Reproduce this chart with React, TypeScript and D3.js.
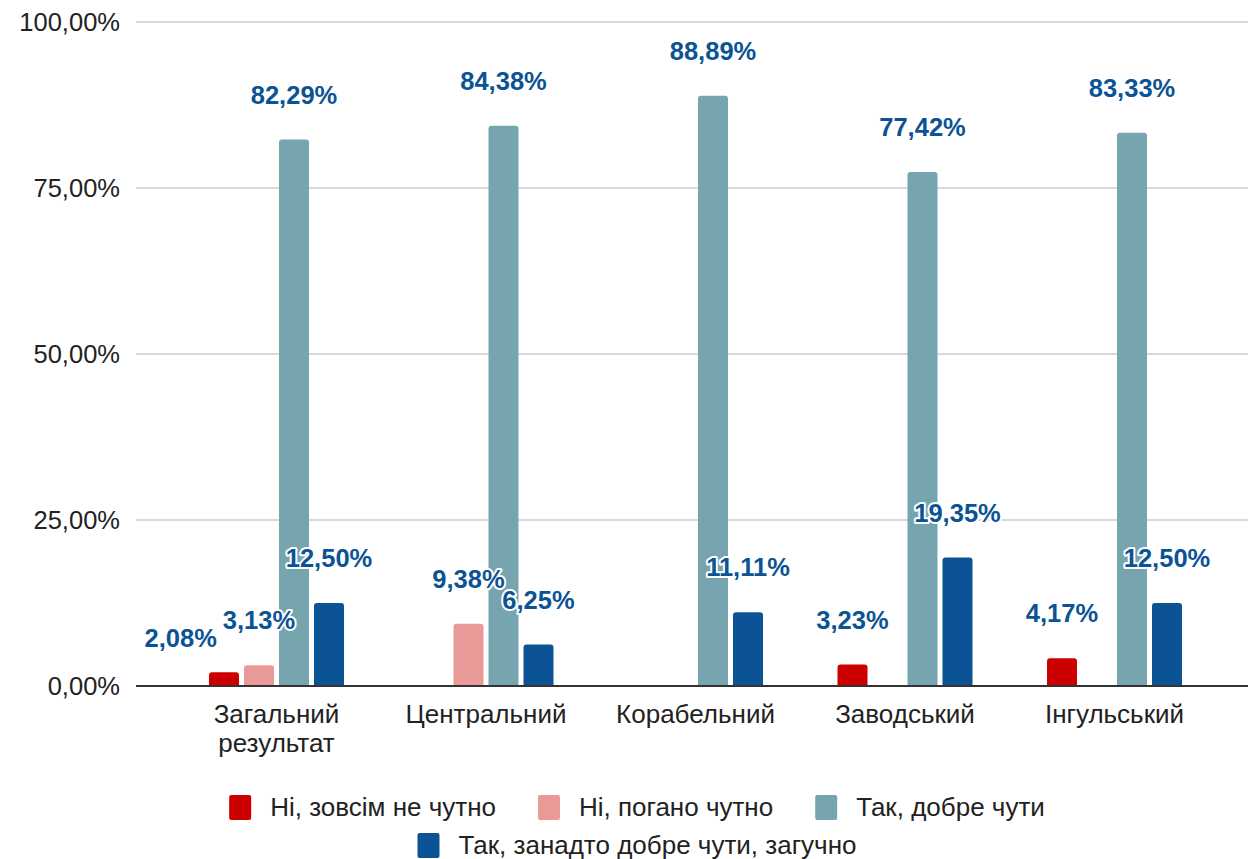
import React from "react";
import * as d3 from "d3";

const categories = [["Загальний", "результат"], ["Центральний"], ["Корабельний"], ["Заводський"], ["Інгульський"]];
const seriesNames = ["Ні, зовсім не чутно", "Ні, погано чутно", "Так, добре чути", "Так, занадто добре чути, загучно"];
const seriesColors = ["#cc0000", "#ea9999", "#76a5af", "#0b5394"];
const notAudible = [2.08, 0, 0, 3.23, 4.17];
const poorlyAudible = [3.13, 9.38, 0, 0, 0];
const wellAudible = [82.29, 84.38, 88.89, 77.42, 83.33];
const tooLoud = [12.5, 6.25, 11.11, 19.35, 12.5];
const yTicks = [0, 25, 50, 75, 100];

const W = 1248, H = 859;
const FONT_NAME = "Liberation Sans";
const FONT = "'Liberation Sans', Arial, sans-serif";
const LABEL_SIZE = 25.5;
const AXIS_SIZE = 25.5;
const TEXT_SIZE = 26;

function fmt(v: number) {
  return v.toFixed(2).replace(".", ",") + "%";
}

let ctx: CanvasRenderingContext2D | null = null;
function textWidth(s: string, size: number, weight = "bold") {
  if (!ctx) ctx = document.createElement("canvas").getContext("2d");
  if (!ctx) return s.length * size * 0.55;
  ctx.font = `${weight} ${size}px '${FONT_NAME}'`;
  return ctx.measureText(s).width;
}

export default function App() {
  const series = [notAudible, poorlyAudible, wellAudible, tooLoud];
  const y = d3.scaleLinear().domain([0, 100]).range([686, 22]);
  const x0 = d3.scaleBand<number>().domain(d3.range(categories.length)).range([171.75, 1219.25]).padding(0);
  const x1 = d3.scaleBand<number>().domain(d3.range(4)).range([-67.5, 67.5]).paddingInner(5 / 35).paddingOuter(0);
  const bw = x1.bandwidth();
  const r = 3;

  const barPath = (x: number, y0: number, w: number, h: number) => {
    const rr = Math.min(r, h / 2, w / 2);
    return `M${x},${y0 + h}V${y0 + rr}Q${x},${y0} ${x + rr},${y0}H${x + w - rr}Q${x + w},${y0} ${x + w},${y0 + rr}V${y0 + h}Z`;
  };

  type Lab = { x: number; y: number; text: string; w: number };
  const labels: Lab[] = [];
  categories.forEach((_, ci) => {
    const group: Lab[] = [];
    series.forEach((s, si) => {
      const v = s[ci];
      if (!v) return;
      const cx = (x0(ci) as number) + x0.bandwidth() / 2 + (x1(si) as number) + bw / 2;
      const text = fmt(v);
      group.push({ x: cx, y: y(v) - 36, text, w: textWidth(text, LABEL_SIZE) });
    });
    for (let i = group.length - 2; i >= 0; i--) {
      const a = group[i], b = group[i + 1];
      const hOverlap = a.x + a.w / 2 > b.x - b.w / 2 && a.x - a.w / 2 < b.x + b.w / 2;
      const vOverlap = Math.abs(a.y - b.y) < LABEL_SIZE * 0.75;
      if (hOverlap && vOverlap) {
        a.x = b.x - b.w / 2 - 6 - a.w / 2;
        a.y = a.y + 11;
      }
    }
    labels.push(...group);
  });

  return (
    <svg width={W} height={H} style={{ position: "absolute", left: 0, top: 0, background: "#fff" }} fontFamily={FONT}>
      <rect width={W} height={H} fill="#fff" />
      {yTicks.map((t) => (
        <g key={t}>
          {t !== 0 && <line x1={136} x2={W} y1={y(t)} y2={y(t)} stroke="#cccccc" strokeWidth={1.3} />}
          <text x={120} y={y(t)} dy="0.36em" textAnchor="end" fontSize={AXIS_SIZE} fill="#222">
            {t.toFixed(2).replace(".", ",") + "%"}
          </text>
        </g>
      ))}
      {categories.map((cat, ci) =>
        series.map((s, si) => {
          const v = s[ci];
          if (!v) return null;
          const bx = (x0(ci) as number) + x0.bandwidth() / 2 + (x1(si) as number);
          return <path key={`${ci}-${si}`} d={barPath(bx, y(v), bw, y(0) - y(v))} fill={seriesColors[si]} />;
        })
      )}
      <line x1={136} x2={W} y1={y(0)} y2={y(0)} stroke="#333" strokeWidth={2} />
      {categories.map((cat, ci) => (
        <text key={ci} x={(x0(ci) as number) + x0.bandwidth() / 2} y={723} textAnchor="middle" fontSize={TEXT_SIZE} fill="#222">
          {cat.map((line, li) => (
            <tspan key={li} x={(x0(ci) as number) + x0.bandwidth() / 2} dy={li === 0 ? 0 : 29}>
              {line}
            </tspan>
          ))}
        </text>
      ))}
      {labels.map((l, i) => (
        <text
          key={i}
          x={l.x}
          y={l.y}
          textAnchor="middle"
          fontSize={LABEL_SIZE}
          fontWeight="bold"
          fill="#0b5394"
          stroke="#fff"
          strokeWidth={4}
          strokeLinejoin="round"
          style={{ paintOrder: "stroke" }}
        >
          {l.text}
        </text>
      ))}
      {(() => {
        const rows = [[0, 1, 2], [3]];
        const sw = 22, gap = 19, itemGap = 42;
        return rows.map((row, ri) => {
          const widths = row.map((si) => sw + gap + textWidth(seriesNames[si], TEXT_SIZE, "normal"));
          const total = d3.sum(widths) + itemGap * (row.length - 1);
          let cx = 637 - total / 2;
          const yy = 807 + ri * 38;
          return row.map((si, k) => {
            const x = cx;
            cx += widths[k] + itemGap;
            return (
              <g key={si}>
                <rect x={x} y={yy - 12} width={sw} height={25} rx={2} fill={seriesColors[si]} />
                <text x={x + sw + gap} y={yy} dy="0.36em" fontSize={TEXT_SIZE} fill="#222">
                  {seriesNames[si]}
                </text>
              </g>
            );
          });
        });
      })()}
    </svg>
  );
}
